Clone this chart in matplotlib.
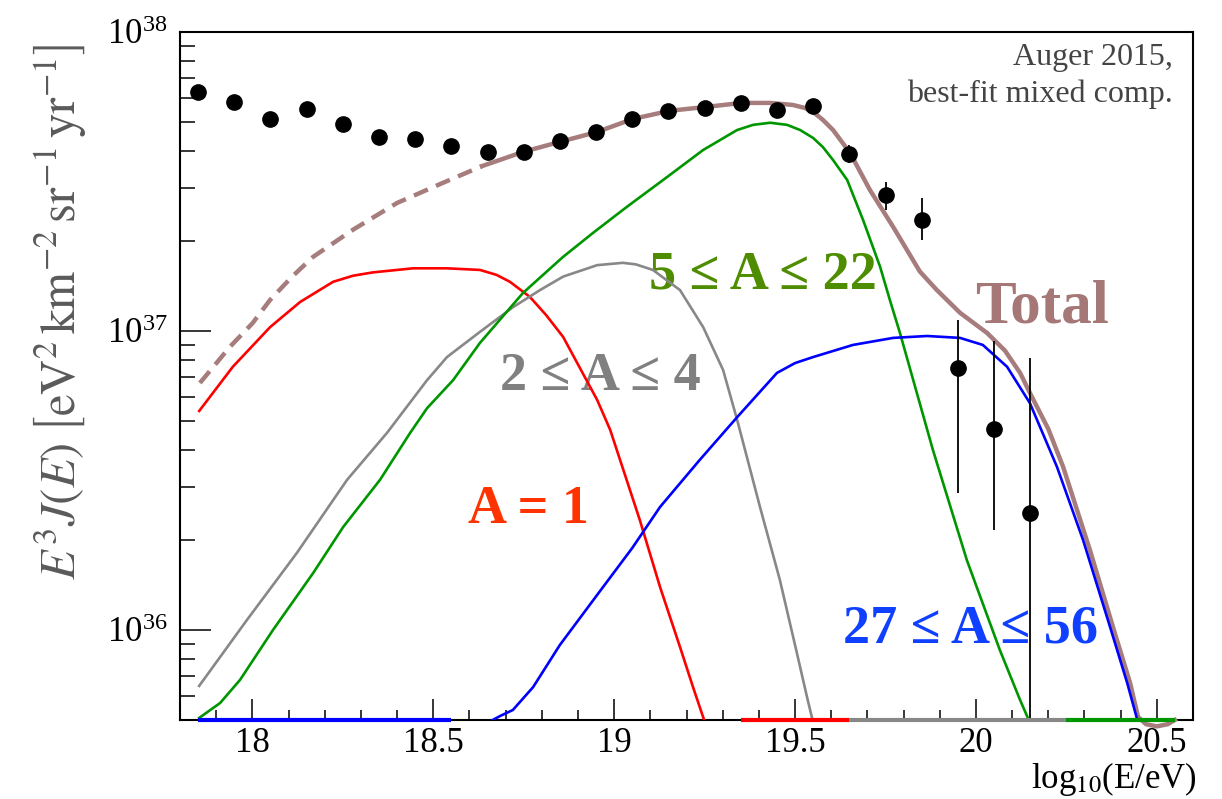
import matplotlib.pyplot as plt
import numpy as np
from matplotlib.ticker import MultipleLocator, LogLocator, NullFormatter, FuncFormatter

plt.rcParams['font.family'] = ['Liberation Serif', 'DejaVu Serif']
plt.rcParams['mathtext.fontset'] = 'stix'

UNIT = 1e37  # all values below are in units of 1e37 eV^2 km^-2 sr^-1 yr^-1

# Auger 2015 spectrum points
data_x = [17.85, 17.95, 18.05, 18.15, 18.25, 18.35, 18.45, 18.55, 18.65, 18.75, 18.85, 18.95,
          19.05, 19.15, 19.25, 19.35, 19.45, 19.55, 19.65, 19.75, 19.85, 19.95, 20.05, 20.15]
data_y = [6.30, 5.83, 5.12, 5.52, 4.92, 4.46, 4.39, 4.16, 3.97, 3.97, 4.32, 4.64,
          5.12, 5.45, 5.57, 5.79, 5.48, 5.66, 3.91, 2.85, 2.35, 0.752, 0.470, 0.246]
err_hi = [6.30, 5.83, 5.12, 5.52, 4.92, 4.46, 4.39, 4.16, 3.97, 3.97, 4.32, 4.64,
          5.12, 5.45, 5.57, 5.79, 5.48, 5.66, 4.19, 3.15, 2.79, 1.09, 0.927, 0.813]
err_lo = [6.30, 5.83, 5.12, 5.52, 4.92, 4.46, 4.39, 4.16, 3.97, 3.97, 4.32, 4.64,
          5.12, 5.45, 5.57, 5.79, 5.48, 5.66, 3.65, 2.54, 2.01, 0.287, 0.216, 0.001]

# total flux: dashed below the fit range, solid above
total_dash_x = [17.855, 17.938, 18.000, 18.049, 18.110, 18.168, 18.278, 18.400, 18.527, 18.635]
total_dash_y = [0.670, 0.885, 1.06, 1.27, 1.52, 1.77, 2.18, 2.68, 3.13, 3.56]
total_x = [18.635, 18.748, 18.850, 18.953, 19.052, 19.154, 19.251, 19.353, 19.431, 19.494,
           19.527, 19.550, 19.577, 19.605, 19.652, 19.707, 19.771, 19.845, 19.892, 19.956,
           20.031, 20.080, 20.122, 20.149, 20.200, 20.241, 20.315, 20.379, 20.426, 20.448,
           20.47, 20.50, 20.53, 20.55]
total_y = [3.56, 3.97, 4.29, 4.63, 5.12, 5.45, 5.61, 5.79, 5.79, 5.70,
           5.57, 5.40, 5.08, 4.70, 3.94, 2.96, 2.23, 1.58, 1.37, 1.15,
           0.984, 0.860, 0.724, 0.621, 0.470, 0.351, 0.185, 0.102, 0.0665, 0.0512,
           0.0484, 0.0476, 0.0484, 0.050]

# A = 1
h_x = [17.853, 17.946, 18.049, 18.132, 18.223, 18.278, 18.333, 18.444, 18.538, 18.629,
       18.675, 18.712, 18.767, 18.812, 18.859, 18.953, 18.989, 19.071, 19.127, 19.182,
       19.218, 19.251]
h_y = [0.540, 0.759, 1.03, 1.25, 1.46, 1.53, 1.57, 1.62, 1.62, 1.60,
       1.54, 1.46, 1.30, 1.13, 0.955, 0.588, 0.467, 0.233, 0.139, 0.0877,
       0.0644, 0.049]

# 2 <= A <= 4
he_x = [17.853, 17.985, 18.123, 18.262, 18.372, 18.483, 18.538, 18.629, 18.720, 18.795,
        18.859, 18.953, 19.024, 19.060, 19.107, 19.182, 19.246, 19.301, 19.340, 19.403,
        19.458, 19.505, 19.533, 19.550]
he_y = [0.0650, 0.108, 0.181, 0.318, 0.456, 0.685, 0.818, 0.993, 1.20, 1.37,
        1.52, 1.66, 1.69, 1.67, 1.60, 1.37, 1.03, 0.741, 0.504, 0.258,
        0.147, 0.0838, 0.0597, 0.049]

# 5 <= A <= 22
cno_x = [17.853, 17.911, 17.966, 18.057, 18.168, 18.251, 18.353, 18.436, 18.483, 18.555,
         18.629, 18.748, 18.859, 18.942, 19.035, 19.146, 19.246, 19.340, 19.384, 19.431,
         19.478, 19.514, 19.550, 19.577, 19.605, 19.644, 19.688, 19.735, 19.762, 19.790,
         19.881, 19.975, 20.066, 20.122, 20.149]
cno_y = [0.0508, 0.057, 0.0681, 0.100, 0.155, 0.221, 0.318, 0.456, 0.552, 0.685,
         0.912, 1.34, 1.77, 2.13, 2.60, 3.27, 4.03, 4.70, 4.89, 4.97,
         4.89, 4.70, 4.42, 4.12, 3.73, 3.20, 2.35, 1.64, 1.27, 0.984,
         0.400, 0.171, 0.0857, 0.0583, 0.049]

# 27 <= A <= 56
fe_x = [18.651, 18.684, 18.720, 18.776, 18.850, 18.953, 19.050, 19.127, 19.237, 19.340,
        19.450, 19.500, 19.550, 19.660, 19.771, 19.865, 19.956, 20.019, 20.086, 20.149,
        20.224, 20.296, 20.371, 20.418, 20.448]
fe_y = [0.049, 0.0515, 0.054, 0.0644, 0.0891, 0.131, 0.188, 0.258, 0.371, 0.515,
        0.724, 0.781, 0.818, 0.898, 0.948, 0.962, 0.948, 0.898, 0.759, 0.574,
        0.351, 0.200, 0.102, 0.0665, 0.049]

# pieces of the components that sit at the plot floor
floor_x0 = [17.85, 19.35, 19.65, 20.25]
floor_x1 = [18.55, 19.65, 20.25, 20.55]
floor_col = ['#0000ff', '#ff0000', '#888888', '#009600']

YMIN, YMAX = 5e35, 1e38

fig = plt.figure(figsize=(12.22, 7.99), dpi=100)
ax = fig.add_axes([0.1473, 0.0989, 0.829, 0.8611])

def sc(v):
    return np.array(v) * UNIT

ax.plot(total_dash_x, sc(total_dash_y), color='#a67c7c', lw=3.2, dashes=(3.4, 2.0), zorder=3)
ax.plot(total_x, sc(total_y), color='#a67c7c', lw=3.2, zorder=3, clip_on=False)
ax.plot(h_x, sc(h_y), color='#ff0000', lw=1.9, zorder=4)
ax.plot(he_x, sc(he_y), color='#888888', lw=1.9, zorder=4)
ax.plot(cno_x, sc(cno_y), color='#009600', lw=1.9, zorder=4)
ax.plot(fe_x, sc(fe_y), color='#0000ff', lw=1.9, zorder=4)
for x0, x1, c in zip(floor_x0, floor_x1, floor_col):
    ax.plot([x0, x1], [YMIN, YMIN], color=c, lw=3, zorder=6, clip_on=False, solid_capstyle='butt')

ax.vlines(data_x, sc(err_lo), sc(err_hi), color='k', lw=1.3, zorder=5)
ax.plot(data_x, sc(data_y), 'o', color='k', ms=11, zorder=5)

ax.set_xlim(17.8, 20.6)
ax.set_yscale('log')
ax.set_ylim(YMIN, YMAX)

ax.xaxis.set_major_locator(MultipleLocator(0.5))
ax.xaxis.set_minor_locator(MultipleLocator(0.1))
ax.xaxis.set_major_formatter(FuncFormatter(lambda v, p: '%g' % v))
ax.yaxis.set_major_locator(LogLocator(base=10))
ax.yaxis.set_minor_locator(LogLocator(base=10, subs=np.arange(2, 10)))
ax.yaxis.set_minor_formatter(NullFormatter())
ax.tick_params(which='both', direction='in', top=False, right=False, width=1.1, labelsize=25)
ax.tick_params(axis='x', which='major', length=15, pad=5)
ax.tick_params(axis='x', which='minor', length=7)
ax.tick_params(axis='y', which='major', length=22, pad=9)
ax.tick_params(axis='y', which='minor', length=11)
for s in ax.spines.values():
    s.set_linewidth(1.5)

ax.text(19.997, 1.07e37, 'Total', color='#a67777', fontsize=44, fontweight='bold', zorder=1)
ax.text(19.096, 1.39e37, '5 ≤ A ≤ 22', color='#4e8c00', fontsize=39, fontweight='bold', zorder=1)
ax.text(18.684, 6.35e36, '2 ≤ A ≤ 4', color='#808080', fontsize=39, fontweight='bold', zorder=1)
ax.text(18.596, 2.28e36, 'A = 1', color='#ff3300', fontsize=39, fontweight='bold', zorder=1)
ax.text(19.633, 9.06e35, '27 ≤ A ≤ 56', color='#1040ff', fontsize=39, fontweight='bold', zorder=1)

fig.text(1173 / 1222, 1 - 65 / 799, 'Auger 2015,', ha='right', va='baseline',
         fontsize=23, color='#444444')
fig.text(1173 / 1222, 1 - 102 / 799, 'best-fit mixed comp.', ha='right', va='baseline',
         fontsize=23, color='#444444')

fig.text(60 / 1222, 1 - 312 / 799,
         r'$E^3J(E)\;\left[\mathrm{eV}^2\,\mathrm{km}^{-2}\,\mathrm{sr}^{-1}\,\mathrm{yr}^{-1}\right]$',
         rotation=90, ha='center', va='center', fontsize=35, color='#5a5a5a')
fig.text(1197 / 1222, 1 - 788 / 799, r'log$_{10}$(E/eV)', ha='right', va='baseline', fontsize=25)

fig.savefig('out.png', dpi=100)
